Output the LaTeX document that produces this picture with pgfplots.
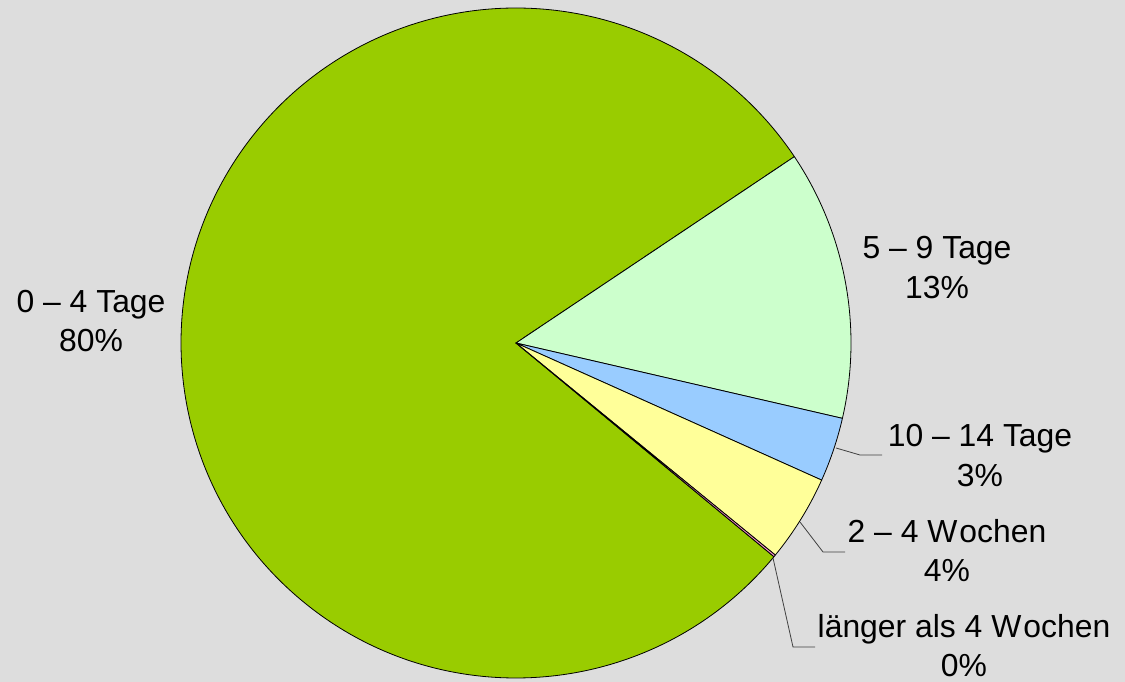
\documentclass[border=0pt]{standalone}
\usepackage{fontspec}
\setmainfont{Liberation Sans}
\usepackage{pgfplots}
\usepackage{pgfplotstable}
\pgfplotsset{compat=1.18}

\definecolor{bg}{HTML}{DDDDDD}
\definecolor{cgreen}{HTML}{99CC00}
\definecolor{clgreen}{HTML}{CCFFCC}
\definecolor{cblue}{HTML}{99CCFF}
\definecolor{cyellow}{HTML}{FFFF99}
\definecolor{cpink}{HTML}{FF99CC}

% share in percent, clockwise order
\pgfplotstableread{
value
79.6
13.0
3.1
4.2
0.1
}\piedata

\begin{document}
\begin{tikzpicture}
\begin{axis}[
  at={(0,0)}, anchor=south west,
  width=1125bp, height=682bp,
  scale only axis,
  xmin=0, xmax=1125, ymin=0, ymax=682,
  hide axis,
  clip=false,
]
\pgfplotsextra{
  \fill[bg] (axis cs:0,0) rectangle (axis cs:1125,682);
  \xdef\curang{-39.64}
  \foreach \i/\col in {0/cgreen,1/clgreen,2/cblue,3/cyellow,4/cpink} {
    \pgfplotstablegetelem{\i}{value}\of\piedata
    \pgfmathsetmacro\endang{\curang-3.6*\pgfplotsretval}
    \filldraw[fill=\col, draw=black, line width=0.8bp, line join=round]
      (axis cs:516,339) -- ++(\curang:335bp)
      arc[start angle=\curang, end angle=\endang, radius=335bp] -- cycle;
    \xdef\curang{\endang}
  }
  % leader lines
  \draw[line width=0.8bp, black!75] (axis cs:836,234) -- (axis cs:860,227) -- (axis cs:882,227);
  \draw[line width=0.8bp, black!75] (axis cs:800,160) -- (axis cs:823,130) -- (axis cs:845,130);
  \draw[line width=0.8bp, black!75] (axis cs:773,124) -- (axis cs:793,35) -- (axis cs:815,35);
}
\tikzset{lbl/.style={anchor=base, inner sep=0pt, font=\fontsize{32}{40}\selectfont}}
\node[lbl] at (axis cs:91,369) {0 -- 4 Tage};
\node[lbl] at (axis cs:91,330) {80\%};
\node[lbl] at (axis cs:937,423) {5 -- 9 Tage};
\node[lbl] at (axis cs:937,383) {13\%};
\node[lbl] at (axis cs:980,235) {10 -- 14 Tage};
\node[lbl] at (axis cs:980,195) {3\%};
\node[lbl] at (axis cs:947,139) {2 -- 4 W\kern2bp ochen};
\node[lbl] at (axis cs:947,100) {4\%};
\node[lbl] at (axis cs:964,44) {länger als 4 W\kern2bp ochen};
\node[lbl] at (axis cs:964,6) {0\%};
\end{axis}
\pgfresetboundingbox
\path[use as bounding box] (0,0) rectangle (1125bp,682bp);
\end{tikzpicture}
\end{document}
